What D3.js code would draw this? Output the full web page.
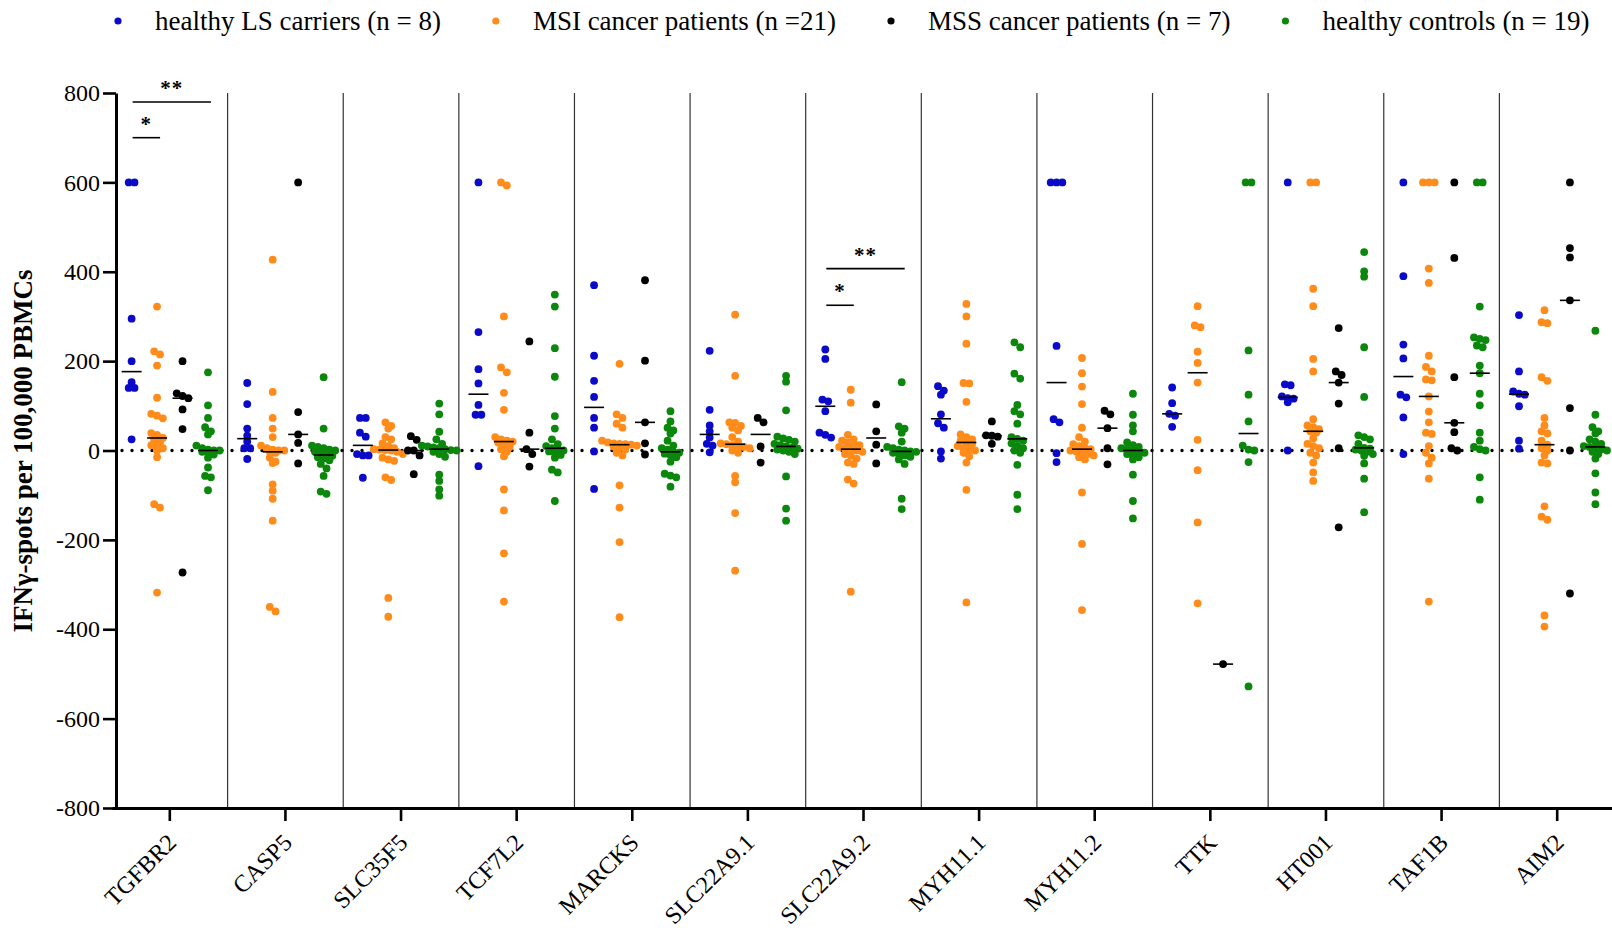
<!DOCTYPE html>
<html>
<head>
<meta charset="utf-8">
<script src="https://cdn.jsdelivr.net/npm/d3@7"></script>
<style>
  body { margin: 0; background: #fff; }
  svg { display: block; font-family: "Liberation Serif", "Times New Roman", serif; }
</style>
</head>
<body>
<div id="chart"></div>
<script>
(function(){
const categories = ["TGFBR2", "CASP5", "SLC35F5", "TCF7L2", "MARCKS", "SLC22A9.1", "SLC22A9.2",
    "MYH11.1", "MYH11.2", "TTK", "HT001", "TAF1B", "AIM2"];

const groupNames = ["healthy LS carriers (n = 8)", "MSI cancer patients (n =21)",
    "MSS cancer patients (n = 7)", "healthy controls (n = 19)"];
const groupColors = ["#0a0ac8", "#ff8c1a", "#000000", "#0b870b"];

// values per category, same order as categories
const lsCarriers = [
    [600, 600, 295, 200, 153, 140, 140, 25],
    [151, 104, 49, 33, 20, 5, 5, -19],
    [73, 73, 40, 31, -8, -11, -11, -61],
    [600, 265, 182, 150, 102, 80, 80, -35],
    [370, 212, 156, 120, 73, 51, -2, -86],
    [223, 91, 56, 43, 29, 15, 11, -4],
    [226, 205, 114, 110, 88, 40, 35, 29],
    [144, 134, 125, 81, 61, 51, -2, -18],
    [600, 600, 600, 234, 70, 63, -6, -26],
    [141, 106, 82, 78, 53],
    [600, 148, 146, 121, 117, 116, 108, 0],
    [600, 390, 237, 206, 125, 119, 74, -8],
    [303, 177, 132, 127, 125, 99, 22, 4]
];

const msiPatients = [
    [322, 222, 215, 190, 118, 82, 78, 72, 39, 35, 28, 25, 18, 12, 10, 5, 0, -15, -120, -128, -318],
    [427, 131, 73, 49, 30, 11, 5, 2, 0, 0, -3, -5, -16, -25, -28, -76, -90, -108, -157, -350, -360],
    [63, 55, 49, 30, 25, 16, 10, 5, 3, 2, 1, 0, -3, -8, -16, -20, -23, -60, -66, -330, -372],
    [600, 593, 300, 186, 175, 129, 91, 30, 25, 22, 20, 18, 13, 8, 3, -3, -13, -87, -134, -230, -338],
    [194, 81, 73, 60, 51, 22, 18, 16, 15, 14, 13, 11, 9, 6, 2, -5, -11, -78, -128, -205, -373],
    [304, 167, 63, 62, 55, 51, 45, 30, 20, 16, 14, 12, 10, 8, 5, 0, -5, -57, -71, -140, -269],
    [136, 107, 35, 25, 22, 18, 15, 12, 8, 5, 3, 0, -3, -8, -12, -18, -27, -30, -65, -74, -316],
    [328, 300, 239, 151, 150, 109, 36, 30, 25, 22, 18, 15, 10, 5, 2, 0, -5, -13, -27, -88, -340],
    [207, 173, 143, 104, 51, 30, 20, 14, 10, 6, 3, 0, -2, -5, -8, -11, -15, -20, -94, -209, -357],
    [323, 280, 276, 221, 196, 152, 24, -44, -161, -342],
    [600, 600, 362, 323, 205, 177, 70, 56, 52, 48, 43, 40, 27, 15, 10, 5, -5, -11, -27, -49, -68],
    [600, 600, 600, 407, 375, 212, 187, 177, 159, 157, 121, 87, 63, 40, 37, 10, -5, -16, -29, -63, -338],
    [314, 287, 285, 164, 156, 73, 56, 43, 38, 22, 13, 5, 0, -11, -27, -29, -125, -148, -155, -369, -394]
];

const mssPatients = [
    [200, 128, 122, 117, 92, 48, -273],
    [600, 86, 36, 17, -29],
    [32, 24, 0, 0, -11, -53],
    [244, 40, 3, -8, -36],
    [381, 201, 63, 16, -9],
    [73, 63, 9, -27],
    [103, 43, 13, -29],
    [65, 34, 33, 31, 15],
    [89, 81, 50, 5, -31],
    [-478],
    [274, 177, 169, 152, 105, 5, -172],
    [600, 431, 164, 62, 41, 5, 0],
    [600, 453, 432, 336, 95, 0, -320]
];

const healthyControls = [
    [175, 101, 73, 52, 43, 36, 11, 5, 2, 0, 0, -3, -5, -9, -16, -38, -57, -60, -89],
    [164, 49, 11, 8, 5, 2, 0, -3, -6, -10, -12, -15, -18, -22, -30, -40, -57, -92, -97],
    [105, 81, 42, 25, 15, 11, 9, 7, 5, 3, 1, 0, -3, -8, -14, -54, -68, -87, -101],
    [349, 322, 229, 165, 77, 49, 25, 14, 10, 5, 3, 0, -2, -5, -10, -16, -43, -49, -113],
    [88, 65, 51, 45, 38, 22, 11, 5, 2, -3, -5, -7, -10, -15, -25, -52, -56, -60, -81],
    [167, 154, 90, 31, 27, 24, 20, 15, 12, 9, 6, 4, 2, 0, -3, -8, -58, -130, -157],
    [153, 54, 49, 40, 20, 8, 5, 2, 0, -2, -3, -5, -8, -11, -14, -20, -30, -108, -131],
    [242, 231, 172, 161, 102, 88, 81, 60, 30, 26, 22, 16, 10, 5, 0, -5, -32, -99, -131],
    [127, 80, 56, 43, 18, 12, 8, 5, 2, 0, -2, -5, -8, -11, -15, -20, -54, -113, -152],
    [600, 600, 224, 125, 65, 11, 2, 0, -26, -528],
    [444, 401, 389, 231, 120, 34, 30, 25, 15, 6, 4, 2, 0, -3, -8, -12, -29, -63, -138],
    [600, 600, 322, 253, 250, 247, 235, 231, 190, 173, 127, 101, 40, 22, 8, 3, 0, -60, -110],
    [268, 80, 52, 43, 38, 25, 20, 15, 10, 8, 5, 2, 0, -3, -8, -18, -51, -94, -120]
];

const yTicks = [-800, -600, -400, -200, 0, 200, 400, 600, 800];

// significance brackets (from group 0 to group sigTo)
const sigCats = ["TGFBR2", "TGFBR2", "SLC22A9.2", "SLC22A9.2"];
const sigTo = [1, 3, 1, 3];
const sigY = [700, 780, 325, 407];
const sigLabels = ["*", "**", "*", "**"];

const allGroups = [lsCarriers, msiPatients, mssPatients, healthyControls];

const width = 1612, height = 932;
const svg = d3.select("#chart").append("svg")
    .attr("width", width)
    .attr("height", height);

const axisX = 116;

const x = d3.scaleBand()
    .domain(categories)
    .range([112, 1615])
    .padding(0);

const gx = d3.scalePoint()
    .domain(d3.range(4))
    .range([-x.bandwidth() / 2, x.bandwidth() / 2])
    .padding(0.77);

const y = d3.scaleLinear()
    .domain([-800, 800])
    .range([808, 93]);

// panel separators
svg.append("g").selectAll("line")
    .data(categories.slice(1))
    .join("line")
    .attr("x1", d => x(d)).attr("x2", d => x(d))
    .attr("y1", y(800)).attr("y2", y(-800))
    .attr("stroke", "#333")
    .attr("stroke-width", 1.2);

// zero line
svg.append("line")
    .attr("x1", axisX + 6).attr("x2", width)
    .attr("y1", y(0)).attr("y2", y(0))
    .attr("stroke", "#000")
    .attr("stroke-width", 3.4)
    .attr("stroke-linecap", "round")
    .attr("stroke-dasharray", "0,10");

// beeswarm-ish layout: bin into rows by pixel y, centre each row
const step = 5.8, rowGap = 5;
function swarm(values, cx) {
    const pts = values.map(v => ({ v: v, py: y(v) })).sort((a, b) => a.py - b.py);
    const rows = [];
    pts.forEach(p => {
        const last = rows[rows.length - 1];
        if (last && p.py - last[0].py < rowGap) last.push(p);
        else rows.push([p]);
    });
    rows.forEach(row => row.forEach((p, i) => { p.px = cx + (i - (row.length - 1) / 2) * step; }));
    return pts;
}

const dots = svg.append("g");
const medians = svg.append("g");
categories.forEach((cat, ci) => {
    allGroups.forEach((grp, gi) => {
        const vals = grp[ci];
        const cx = x(cat) + x.bandwidth() / 2 + gx(gi);
        dots.selectAll(null)
            .data(swarm(vals, cx))
            .join("circle")
            .attr("cx", d => d.px)
            .attr("cy", d => d.py)
            .attr("r", 3.9)
            .attr("fill", groupColors[gi]);
        const med = d3.median(vals);
        medians.append("line")
            .attr("x1", cx - 10).attr("x2", cx + 10)
            .attr("y1", y(med)).attr("y2", y(med))
            .attr("stroke", "#000")
            .attr("stroke-width", 1.6);
    });
});

// significance
sigCats.forEach((cat, i) => {
    const c = x(cat) + x.bandwidth() / 2;
    const x1 = c + gx(0) + 1, x2 = c + gx(sigTo[i]) + 3;
    svg.append("line")
        .attr("x1", x1).attr("x2", x2)
        .attr("y1", y(sigY[i])).attr("y2", y(sigY[i]))
        .attr("stroke", "#000").attr("stroke-width", 1.6);
    svg.append("text")
        .attr("x", (x1 + x2) / 2)
        .attr("y", y(sigY[i]) - 7)
        .attr("text-anchor", "middle")
        .style("font-size", "21px")
        .style("font-weight", "bold")
        .style("letter-spacing", "1px")
        .text(sigLabels[i]);
});

// y axis
const yAxis = svg.append("g")
    .attr("transform", `translate(${axisX},0)`)
    .call(d3.axisLeft(y).tickValues(yTicks).tickSize(13).tickSizeOuter(0).tickPadding(3)
        .tickFormat(d => String(d)));
yAxis.attr("font-family", null);
yAxis.select(".domain").attr("stroke-width", 3);
yAxis.selectAll(".tick line").attr("stroke-width", 2.6);
yAxis.selectAll(".tick text")
    .style("font-family", "'Liberation Serif', serif")
    .style("font-size", "24px")
    .attr("fill", "#000");

// x axis
const xAxis = svg.append("g")
    .attr("transform", `translate(0,${y(-800)})`)
    .call(d3.axisBottom(x).tickSize(13).tickSizeOuter(0).tickFormat(""));
xAxis.select(".domain").attr("stroke-width", 3);
xAxis.selectAll(".tick line").attr("stroke-width", 2.6);

svg.append("g").selectAll("text")
    .data(categories)
    .join("text")
    .attr("transform", d => `translate(${x(d) + x.bandwidth() / 2 + 8},844) rotate(-45)`)
    .attr("text-anchor", "end")
    .style("font-size", "24px")
    .text(d => d);

// y title
svg.append("text")
    .attr("transform", "translate(32,451) rotate(-90)")
    .attr("text-anchor", "middle")
    .style("font-size", "27px")
    .style("font-weight", "bold")
    .text("IFNγ-spots per 100,000 PBMCs");

// legend
const legend = svg.append("g").attr("transform", "translate(118,21)");
let lx = 0;
groupNames.forEach((name, i) => {
    legend.append("circle")
        .attr("cx", lx).attr("cy", 0).attr("r", 3.6)
        .attr("fill", groupColors[i]);
    const t = legend.append("text")
        .attr("x", lx + 37).attr("y", 8.5)
        .style("font-size", "27px")
        .text(name);
    lx += 37 + t.node().getComputedTextLength() + 55;
});
})();
</script>
</body>
</html>
